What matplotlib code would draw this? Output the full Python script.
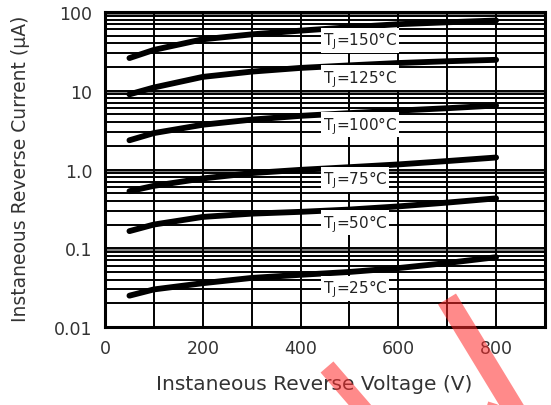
import matplotlib
matplotlib.use("Agg")
import matplotlib.pyplot as plt
from matplotlib.patches import Polygon
import numpy as np

# voltages (V) where the curves are read
volts = [50, 100, 200, 300, 400, 500, 600, 700, 800]

# reverse current (uA) for each junction temperature
i150 = [26, 33, 45, 52, 58, 64, 70, 74, 78]
i125 = [9.0, 11.0, 15.0, 17.5, 19.5, 21.0, 22.5, 23.7, 24.7]
i100 = [2.35, 2.9, 3.7, 4.3, 4.8, 5.2, 5.6, 6.0, 6.5]
i75 = [0.53, 0.62, 0.77, 0.90, 0.99, 1.07, 1.16, 1.28, 1.42]
i50 = [0.165, 0.20, 0.25, 0.275, 0.29, 0.31, 0.34, 0.38, 0.43]
i25 = [0.025, 0.030, 0.036, 0.042, 0.046, 0.050, 0.056, 0.065, 0.077]

curvas = [i150, i125, i100, i75, i50, i25]
etiquetas = ["150", "125", "100", "75", "50", "25"]
etiq_y = [44, 14.6, 3.7, 0.75, 0.21, 0.031]

ytick_vals = [0.01, 0.1, 1, 10, 100]
ytick_txt = ["0.01", "0.1", "1.0", "10", "100"]
xtick_vals = [0, 200, 400, 600, 800]

plt.rcParams["font.family"] = ["DejaVu Sans"]
plt.rcParams["mathtext.default"] = "regular"

fig = plt.figure(figsize=(5.51, 4.06), dpi=100)
ax = fig.add_axes([105/551, 1-328/406, 440/551, 315/406])
ax.set_yscale("log")
ax.set_xlim(0, 900)
ax.set_ylim(0.01, 100)

# rejilla
for k in range(-2, 2):
    d = 10.0**k
    ax.axhspan(9*d, 10*d, color="#808080", lw=0, zorder=1)
    for m in range(1, 10):
        ax.axhline(m*d, color="black", lw=1.4, zorder=2)
for xv in range(100, 900, 100):
    ax.axvline(xv, color="black", lw=1.4, zorder=2)

for c in curvas:
    ax.plot(volts, c, color="black", lw=4.2, solid_capstyle="round", zorder=3)

for t, yv in zip(etiquetas, etiq_y):
    ax.text(445, yv, "T$_J$=" + t + "°C", fontsize=11, color="#222222",
            va="center", ha="left", zorder=4,
            bbox=dict(facecolor="white", edgecolor="none", pad=1.2))

ax.set_yticks(ytick_vals)
ax.set_yticklabels(ytick_txt)
ax.yaxis.set_minor_locator(matplotlib.ticker.NullLocator())
ax.set_xticks(xtick_vals)
ax.tick_params(length=0, labelsize=12.5, colors="#333333")
ax.tick_params(axis="y", pad=9)
ax.tick_params(axis="x", pad=9)
for s in ax.spines.values():
    s.set_linewidth(2.2)

ax.set_xlabel("Instaneous Reverse Voltage (V)", fontsize=14.5, color="#333333")
ax.set_ylabel("Instaneous Reverse Current (µA)", fontsize=13.5, color="#333333")
ax.xaxis.set_label_coords(0.475, -0.15)
ax.yaxis.set_label_coords(-0.17, 0.505)

# marca de agua roja
W, H = 551, 406
def barra(x0, y0, x1, y1, ancho):
    dx, dy = x1-x0, y1-y0
    n = np.hypot(dx, dy)
    px, py = -dy/n*ancho/2, dx/n*ancho/2
    pts = [(x0+px, y0+py), (x1+px, y1+py), (x1-px, y1-py), (x0-px, y0-py)]
    pts = [(p[0]/W, 1-p[1]/H) for p in pts]
    fig.patches.append(Polygon(pts, closed=True, transform=fig.transFigure,
                               facecolor="#ff2a2a", alpha=0.55, edgecolor="none", zorder=10))
barra(327, 368, 372, 420, 17)
barra(447, 300, 520, 420, 21)
barra(488, 420, 493, 404, 10)

fig.savefig("out.png", dpi=100)
